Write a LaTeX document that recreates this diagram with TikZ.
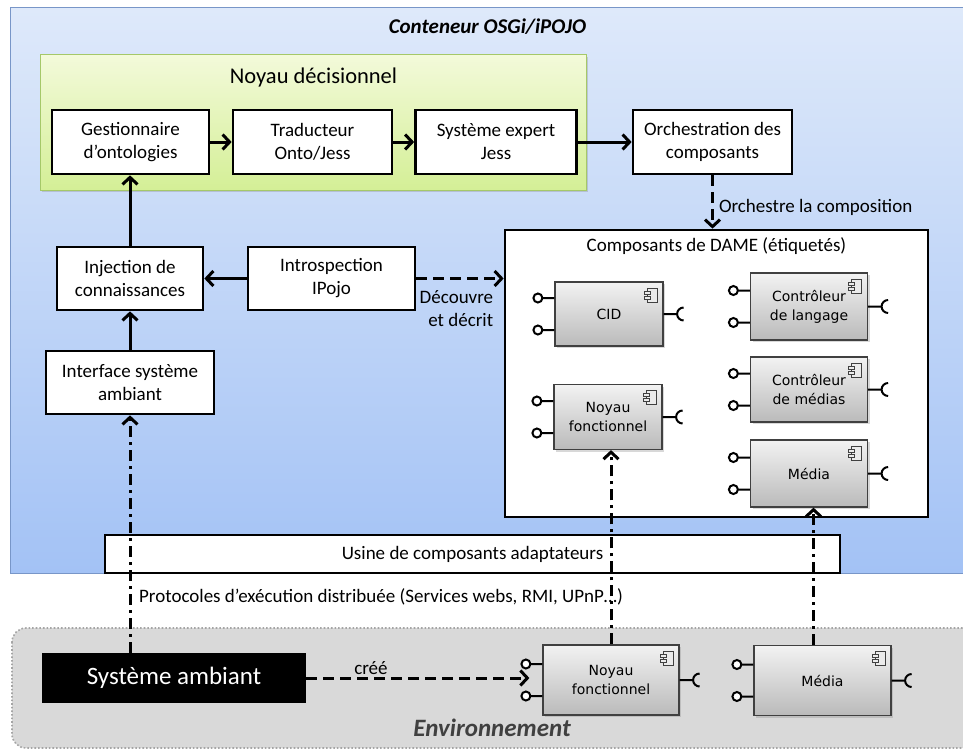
\documentclass[tikz,border=0pt]{standalone}
\usepackage{fontspec}
\setmainfont{Carlito}
\newfontfamily\compfont{DejaVu Sans}
\usetikzlibrary{arrows.meta,shadows}

\definecolor{bleuhaut}{RGB}{222,233,250}
\definecolor{bleubas}{RGB}{163,194,245}
\definecolor{bleutrait}{RGB}{120,150,200}
\definecolor{verthaut}{RGB}{243,250,218}
\definecolor{vertbas}{RGB}{212,239,150}
\definecolor{verttrait}{RGB}{165,200,105}
\definecolor{grisfond}{RGB}{217,217,217}
\definecolor{gristrait}{RGB}{165,165,165}

\begin{document}
\begin{tikzpicture}[x=1pt, y=-1pt,
  >={Straight Barb[length=7pt, width=15pt]},
  every node/.style={font=\fontsize{19}{23}\selectfont},
  boxstyle/.style={draw=black, line width=2.7pt, fill=white, align=center, inner sep=0pt},
  linkstyle/.style={draw=black, line width=3pt},
  dashstyle/.style={linkstyle, dash pattern=on 11pt off 6pt},
  dotdashstyle/.style={linkstyle, dash pattern=on 11pt off 5pt on 3pt off 5pt},
  lblstyle/.style={inner sep=2pt, align=right},
  titlestyle/.style={font=\fontsize{21}{25}\selectfont\bfseries\itshape},
  portstyle/.style={draw=black, line width=2pt},
  lollistyle/.style={portstyle, fill=white, to path={-- ++(-12,0) ++(-4.5,0) circle[radius=4.5]}},
  sockstyle/.style={portstyle, to path={-- ++(14,0) ++(6,6.5) arc[start angle=90, end angle=270, radius=6.5]}},
  compstyle/.style={draw=black!75, line width=1.2pt, top color=black!5, bottom color=black!27,
    drop shadow={opacity=0.3, shadow xshift=2pt, shadow yshift=-2pt},
    align=center, inner sep=0pt, font=\compfont\fontsize{14}{19}\selectfont,
    path picture={
      \draw[line width=1pt, fill=black!8] ([shift={(-16,6)}]path picture bounding box.north east) rectangle ++(10,14);
      \draw[line width=1pt, fill=black!8] ([shift={(-19,9)}]path picture bounding box.north east) rectangle ++(6,3);
      \draw[line width=1pt, fill=black!8] ([shift={(-19,14)}]path picture bounding box.north east) rectangle ++(6,3);
    },
    append after command={
      ([yshift=16pt]\tikzlastnode.west) edge[lollistyle] (\tikzlastnode.west)
      ([yshift=-16pt]\tikzlastnode.west) edge[lollistyle] (\tikzlastnode.west)
      (\tikzlastnode.east) edge[sockstyle] (\tikzlastnode.east)
    }}]
  \useasboundingbox (0,0) rectangle (963,752);

  % conteneur OSGi
  \path[top color=bleuhaut, bottom color=bleubas, draw=bleutrait, line width=1pt] (10,8) rectangle (980,573);
  \node[titlestyle] (conteneur) at (487.5,27) {Conteneur OSGi/iPOJO};

  % environnement
  \path[fill=grisfond, draw=gristrait, line width=1.6pt, dotted, rounded corners=14pt] (12,628) rectangle (990,748);
  \node[titlestyle, font=\fontsize{25}{30}\selectfont\bfseries\itshape, text=black!75] (environ) at (492,728) {Environnement};

  % noyau decisionnel
  \path[top color=verthaut, bottom color=vertbas, draw=verttrait, line width=1pt,
    drop shadow={opacity=0.3, shadow xshift=2pt, shadow yshift=-2pt}] (40,55) rectangle (586,190);
  \node (decision) at (313.5,78) {\fontsize{22.5}{27}\selectfont Noyau décisionnel};

  \node[boxstyle, minimum width=157pt, minimum height=64pt] (gestion) at (130.5,142) {Gestionnaire\\d’ontologies};
  \node[boxstyle, minimum width=159pt, minimum height=64pt] (traduct) at (312.5,142) {Traducteur\\Onto/Jess};
  \node[boxstyle, minimum width=161pt, minimum height=64pt] (expert) at (496,142) {Système expert\\Jess};
  \node[boxstyle, minimum width=159pt, minimum height=64pt] (orch) at (712.5,142) {Orchestration des\\composants};

  \node[boxstyle, minimum width=146pt, minimum height=63pt] (inject) at (130,278.5) {Injection de\\connaissances};
  \node[boxstyle, minimum width=167pt, minimum height=63pt] (intro) at (331.5,278.5) {Introspection\\IPojo};
  \node[boxstyle, minimum width=168pt, minimum height=63pt] (iface) at (130,382.5) {Interface système\\ambiant};

  % composants de DAME
  \node[boxstyle, minimum width=423pt, minimum height=287pt] (dame) at (716.5,373.5) {};
  \node (dametitle) at (716.5,246) {Composants de DAME (étiquetés)};
  \node[compstyle, minimum width=108pt, minimum height=64pt] (cid) at (609,314) {CID};
  \node[compstyle, minimum width=108pt, minimum height=65pt] (noyauD) at (608,417) {Noyau\\fonctionnel};
  \node[compstyle, minimum width=117pt, minimum height=67pt] (ctrlLang) at (809,306.5) {Contrôleur\\de langage};
  \node[compstyle, minimum width=117pt, minimum height=65pt] (ctrlMed) at (809,389.5) {Contrôleur\\de médias};
  \node[compstyle, minimum width=117pt, minimum height=67pt] (mediaD) at (809,473.5) {Média};

  \node[boxstyle, minimum width=735pt, minimum height=38pt] (usine) at (472.5,554) {Usine de composants adaptateurs};
  \node (protocoles) at (381,597) {Protocoles d’exécution distribuée (Services webs, RMI, UPnP…)};

  % environnement
  \node[fill=black, text=white, inner sep=0pt, minimum width=264pt, minimum height=50pt,
    font=\fontsize{25}{30}\selectfont] (sysamb) at (174,678) {Système ambiant};
  \node[compstyle, minimum width=136pt, minimum height=70pt] (noyauE) at (611,680) {Noyau\\fonctionnel};
  \node[compstyle, minimum width=137pt, minimum height=70pt] (mediaE) at (822.5,680.5) {Média};

  % liens
  \draw[linkstyle, ->] (gestion) -- (traduct);
  \draw[linkstyle, ->] (traduct) -- (expert);
  \draw[linkstyle, ->] (expert) -- (orch);
  \draw[linkstyle, ->] (inject.north) -- (inject.north |- gestion.south);
  \draw[linkstyle, ->] (intro) -- (inject);
  \draw[linkstyle, ->] (iface) -- (inject);
  \draw[dashstyle, ->] (orch.south) -- (orch.south |- dame.north)
    node[pos=0.6, anchor=west, lblstyle, xshift=3pt] {Orchestre la composition};
  \draw[dashstyle, ->] (intro.east) -- (intro.east -| dame.west)
    node[pos=1, anchor=north east, lblstyle, xshift=-7pt, yshift=-9pt] {Découvre\\et décrit};
  \draw[dashstyle, ->] (sysamb.east) -- ([xshift=-13pt]noyauE.west |- sysamb.east)
    node[pos=0.29, above, lblstyle] {créé};
  \draw[dotdashstyle, ->] (sysamb.north -| iface.south) -- (iface.south);
  \draw[dotdashstyle, ->] (noyauE.north) -- (noyauE.north |- noyauD.south);
  \draw[dotdashstyle, ->] ([xshift=-9pt]mediaE.north) -- ([xshift=-9pt]mediaE.north |- mediaD.south);
\end{tikzpicture}
\end{document}
